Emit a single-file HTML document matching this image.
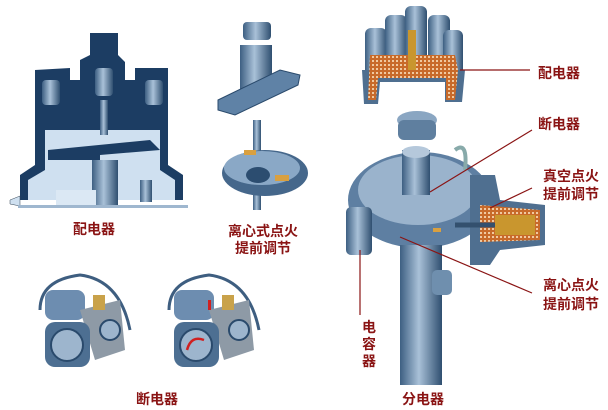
<!DOCTYPE html>
<html><head><meta charset="utf-8"><style>
html,body{margin:0;padding:0;background:#fff;}
svg{display:block}
text{font-family:"Liberation Sans","Noto Sans CJK SC",sans-serif;font-size:14px;fill:#8a1414;font-weight:bold}
</style></head><body>
<svg width="608" height="410" viewBox="0 0 608 410" xmlns="http://www.w3.org/2000/svg">
<defs>
<linearGradient id="st" x1="0" x2="1"><stop offset="0" stop-color="#3d5f82"/><stop offset="0.45" stop-color="#a9c1d8"/><stop offset="1" stop-color="#2f4f70"/></linearGradient>
<pattern id="hatch" width="4" height="4" patternUnits="userSpaceOnUse"><rect width="4" height="4" fill="#c86a2a"/><rect width="2" height="2" fill="#f0c9a0"/></pattern>
</defs>
<g>
<path d="M20 200 L20 175 L35 165 L35 70 L70 68 L70 80 L80 80 L80 60 L90 55 L90 33 L118 33 L118 55 L125 62 L125 80 L135 80 L135 68 L168 68 L168 165 L183 175 L183 200 Z" fill="#1c3d63"/>
<path d="M45 130 L160 130 L160 170 L175 180 L175 200 L28 200 L28 180 L45 170 Z" fill="#cfe0f0"/>
<path d="M48 150 L150 140 L160 150 L100 155 L100 160 L48 160 Z" fill="#1c3d63"/>
<rect x="92" y="160" width="26" height="45" fill="url(#st)"/>
<rect x="100" y="100" width="8" height="35" fill="url(#st)"/>
<rect x="42" y="80" width="18" height="25" rx="4" fill="url(#st)"/>
<rect x="95" y="68" width="18" height="28" rx="4" fill="url(#st)"/>
<rect x="145" y="80" width="18" height="25" rx="4" fill="url(#st)"/>
<rect x="56" y="190" width="40" height="16" fill="#dbe8f4"/>
<rect x="140" y="180" width="12" height="22" fill="url(#st)"/>
<path d="M10 200 L20 196 L20 206 L10 204 Z" fill="#cfe0f0" stroke="#345" stroke-width="0.5"/>
<rect x="18" y="205" width="170" height="3" fill="#9fb7cf"/>
</g>
<text x="73" y="234">配电器</text>
<rect x="243" y="22" width="28" height="18" rx="4" fill="url(#st)"/>
<rect x="240" y="45" width="32" height="50" fill="url(#st)"/>
<path d="M218 100 L280 70 L300 75 L298 85 L235 115 L218 110 Z" fill="#5f82a6" stroke="#2a4a6c"/>
<rect x="253" y="120" width="8" height="90" fill="url(#st)"/>
<ellipse cx="265" cy="173" rx="43" ry="23" fill="#45678b"/>
<ellipse cx="262" cy="168" rx="38" ry="17" fill="#8aa8c6"/>
<ellipse cx="258" cy="175" rx="12" ry="8" fill="#2c4d70"/>
<rect x="275" y="175" width="14" height="6" fill="#d9a040"/>
<rect x="244" y="150" width="12" height="5" fill="#d9a040"/>
<text x="228" y="236">离心式点火</text>
<text x="235" y="253">提前调节</text>
<g>
<path d="M40 310 Q40 280 80 275 Q120 280 130 330" fill="none" stroke="#3e5e80" stroke-width="3"/>
<rect x="45" y="290" width="40" height="30" rx="8" fill="#6d8db0"/>
<path d="M80 310 L120 300 L125 350 L95 360 Z" fill="#8e9aa6"/>
<rect x="93" y="295" width="12" height="15" fill="#c9a24a"/>
<rect x="45" y="322" width="45" height="45" rx="10" fill="#4d6f92"/>
<circle cx="67" cy="345" r="16" fill="#9db5cd" stroke="#2a4a6c" stroke-width="2"/>
<circle cx="110" cy="330" r="10" fill="#9db5cd" stroke="#2a4a6c" stroke-width="2"/>
</g>
<g transform="translate(129,0)">
<path d="M40 310 Q40 280 80 275 Q120 280 130 330" fill="none" stroke="#3e5e80" stroke-width="3"/>
<rect x="45" y="290" width="40" height="30" rx="8" fill="#6d8db0"/>
<path d="M80 310 L120 300 L125 350 L95 360 Z" fill="#8e9aa6"/>
<rect x="93" y="295" width="12" height="15" fill="#c9a24a"/>
<rect x="45" y="322" width="45" height="45" rx="10" fill="#4d6f92"/>
<circle cx="67" cy="345" r="16" fill="#9db5cd" stroke="#2a4a6c" stroke-width="2"/>
<path d="M58 350 Q62 335 75 340" fill="none" stroke="#d02020" stroke-width="2.5"/>
<rect x="79" y="300" width="3" height="10" fill="#d02020"/>
<circle cx="110" cy="330" r="10" fill="#9db5cd" stroke="#2a4a6c" stroke-width="2"/>
</g>
<text x="136" y="404">断电器</text>
<!-- distributor cap with towers -->
<rect x="365" y="28" width="22" height="50" rx="6" fill="url(#st)"/>
<rect x="385" y="15" width="22" height="55" rx="6" fill="url(#st)"/>
<rect x="405" y="6" width="22" height="60" rx="6" fill="url(#st)"/>
<rect x="428" y="15" width="22" height="55" rx="6" fill="url(#st)"/>
<rect x="443" y="30" width="20" height="45" rx="6" fill="url(#st)"/>
<path d="M362 70 L465 70 L462 102 L445 102 L445 82 L380 82 L378 104 L364 104 Z" fill="#4f6f90"/>
<path d="M370 55 L455 55 L458 70 L455 100 L446 100 L446 78 L378 78 L376 100 L368 100 Z" fill="url(#hatch)"/>
<rect x="408" y="30" width="8" height="40" fill="#c9962e"/>
<ellipse cx="417" cy="120" rx="20" ry="9" fill="#8aa6c2"/>
<rect x="398" y="120" width="38" height="20" rx="6" fill="#5f7f9f"/>
<ellipse cx="420" cy="200" rx="72" ry="48" fill="#5e7fa2"/>
<ellipse cx="418" cy="190" rx="60" ry="35" fill="#9ab3cc"/>
<rect x="402" y="150" width="28" height="45" fill="url(#st)"/>
<ellipse cx="416" cy="152" rx="14" ry="6" fill="#b5c8db"/>
<rect x="400" y="245" width="42" height="140" fill="url(#st)"/>
<rect x="432" y="270" width="20" height="25" rx="5" fill="#6f8fae"/>
<rect x="346" y="207" width="26" height="48" rx="5" fill="url(#st)"/>
<path d="M470 175 L495 175 L500 200 L545 205 L545 245 L500 250 L490 265 L470 265 Z" fill="#4f6f90"/>
<path d="M480 205 L540 210 L540 240 L480 242 Z" fill="url(#hatch)"/>
<rect x="495" y="215" width="40" height="20" fill="#c9962e"/>
<line x1="455" y1="225" x2="495" y2="225" stroke="#33506e" stroke-width="5"/>
<rect x="433" y="228" width="8" height="4" fill="#d9a040"/>
<path d="M455 150 Q468 140 465 170" fill="none" stroke="#8aa" stroke-width="4"/>
<g stroke="#8a1414" stroke-width="1.2" fill="none">
<line x1="460" y1="70" x2="530" y2="70"/>
<line x1="430" y1="192" x2="532" y2="130"/>
<line x1="490" y1="208" x2="532" y2="188"/>
<line x1="400" y1="237" x2="532" y2="293"/>
<line x1="360" y1="250" x2="360" y2="315"/>
</g>
<text x="538" y="78">配电器</text>
<text x="538" y="129">断电器</text>
<text x="543" y="181">真空点火</text>
<text x="543" y="199">提前调节</text>
<text x="543" y="290">离心点火</text>
<text x="543" y="309">提前调节</text>
<text x="362" y="332">电</text>
<text x="362" y="349">容</text>
<text x="362" y="366">器</text>
<text x="402" y="404">分电器</text>
</svg>
</body></html>
